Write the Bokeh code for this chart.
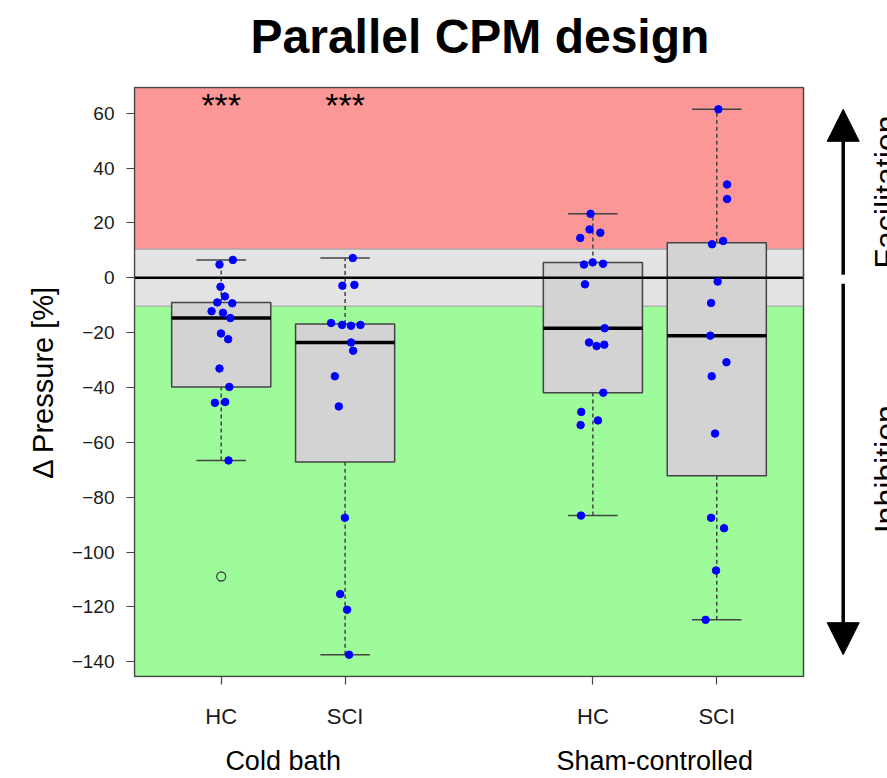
import math
from bokeh.plotting import figure
from bokeh.models import Range1d, FixedTicker, LinearAxis, Arrow, NormalHead, Title
from bokeh.core.properties import value
from bokeh.embed import file_html
from bokeh.resources import INLINE

# ---------------- data ----------------
TITLE = "Parallel CPM design"
Y_LABEL = "Δ Pressure [%]"
CATEGORY_LABELS = ["HC", "SCI", "HC", "SCI"]
CATEGORY_POS = [1, 2, 4, 5]
GROUP_LABELS = ["Cold bath", "Sham-controlled"]
GROUP_POS = [1.5, 4.5]
Y_TICKS = [-140, -120, -100, -80, -60, -40, -20, 0, 20, 40, 60]
Y_TICK_LABELS = ["−140", "−120", "−100", "−80", "−60", "−40", "−20", "0", "20", "40", "60"]
SIGNIF = ["***", "***", "", ""]
SIDE_LABELS = ["Facilitation", "Inhibition"]
BAND_LIMIT = 10.4  # grey "no change" band (± %)

cold_hc = [6.5, 4.8, -3.3, -6.8, -9.0, -9.3, -12.2, -12.8, -14.7, -20.3, -22.4,
           -33.1, -39.8, -45.6, -45.3, -66.6, -108.9]
cold_hc_jitter = [0.094, -0.014, -0.006, 0.03, -0.032, 0.089, -0.078, 0.014, 0.073,
                  -0.002, 0.056, -0.014, 0.065, -0.051, 0.032, 0.059, 0.0]
cold_sci = [7.2, -2.9, -2.6, -16.5, -17.2, -17.5, -17.2, -23.6, -26.6, -35.9, -46.9,
            -87.5, -115.3, -121.0, -137.4]
cold_sci_jitter = [0.062, -0.022, 0.075, -0.113, -0.024, 0.048, 0.124, 0.048, 0.065,
                   -0.083, -0.051, -0.002, -0.04, 0.016, 0.032]
sham_hc = [23.3, 17.6, 16.4, 14.5, 5.6, 5.1, 4.8, -2.4, -18.4, -23.6, -24.4, -24.9,
           -41.9, -48.9, -52.0, -53.7, -86.7]
sham_hc_jitter = [-0.019, -0.027, 0.06, -0.102, -0.002, 0.082, -0.072, -0.064, 0.095,
                  -0.031, 0.092, 0.03, 0.084, -0.094, 0.041, -0.099, -0.096]
sham_sci = [61.4, 34.0, 28.7, 13.4, 12.2, -1.4, -9.2, -21.1, -30.8, -35.9, -56.8,
            -87.5, -91.3, -106.7, -124.7]
sham_sci_jitter = [0.013, 0.083, 0.083, 0.051, -0.038, 0.007, -0.046, -0.052, 0.078,
                   -0.041, -0.014, -0.046, 0.059, -0.006, -0.09]

GROUP_VALUES = [cold_hc, cold_sci, sham_hc, sham_sci]
GROUP_JITTER = [cold_hc_jitter, cold_sci_jitter, sham_hc_jitter, sham_sci_jitter]

# ---------------- styles / layout ----------------
FONT = "Liberation Sans"
RED = "#FC9797"
GREY = "#E3E3E3"
GREEN = "#9EFB9A"
BOX_FILL = "#D3D3D3"
DARK = "#444444"
W, H = 887, 778
PLOT_L, PLOT_R, PLOT_T, PLOT_B = 134, 803, 87, 684
BOX_W = 0.8
CAP_W = 0.4


def fivenum(v):
    x = sorted(v)
    n = len(x)
    n4 = math.floor((n + 3) / 2) / 2
    d = [1, n4, (n + 1) / 2, n + 1 - n4, n]
    return [0.5 * (x[math.floor(di) - 1] + x[math.ceil(di) - 1]) for di in d]


def box_stats(v):
    _, q1, med, q3, _ = fivenum(v)
    iqr = q3 - q1
    lo_f, hi_f = q1 - 1.5 * iqr, q3 + 1.5 * iqr
    inside = [a for a in v if lo_f <= a <= hi_f]
    out = [a for a in v if a < lo_f or a > hi_f]
    return q1, med, q3, min(inside), max(inside), out, lo_f, hi_f


# axis limits like R: range of data extended by 4 %
all_vals = [a for g in GROUP_VALUES for a in g]
dmin, dmax = min(all_vals), max(all_vals)
y_lo = dmin - 0.04 * (dmax - dmin)
y_hi = dmax + 0.04 * (dmax - dmin)
x_lo = 0.5 - 0.04 * 5
x_hi = 5.5 + 0.04 * 5

ppx = (PLOT_R - PLOT_L) / (x_hi - x_lo)
ppy = (PLOT_B - PLOT_T) / (y_hi - y_lo)

# frame is 1px larger than the plot box on left/top/bottom so its border is not clipped
p = figure(width=W, height=H, output_backend="svg", toolbar_location=None,
           x_range=Range1d(x_lo - 1 / ppx, x_lo + (W - PLOT_L) / ppx),
           y_range=Range1d(y_lo - 1 / ppy, y_hi + 1 / ppy),
           min_border_left=PLOT_L - 1, min_border_right=0, min_border_top=PLOT_T - 1,
           min_border_bottom=H - PLOT_B - 1)
p.outline_line_color = None
p.grid.visible = False
p.background_fill_color = "white"
p.border_fill_color = "white"

# spacer between plot box and title, then the title itself
p.add_layout(Title(text=" ", text_font_size="1px", standoff=14), "above")
p.add_layout(Title(text=TITLE, align="left", offset=117, standoff=13,
                   text_font=FONT, text_font_size="48px", text_font_style="bold",
                   text_color="black"), "above")

# background bands
p.quad(left=[x_lo], right=[x_hi], bottom=[BAND_LIMIT], top=[y_hi],
       fill_color=RED, line_color="#A8A8A8", line_width=1)
p.quad(left=[x_lo], right=[x_hi], bottom=[-BAND_LIMIT], top=[BAND_LIMIT],
       fill_color=GREY, line_color="#A8A8A8", line_width=1)
p.quad(left=[x_lo], right=[x_hi], bottom=[y_lo], top=[-BAND_LIMIT],
       fill_color=GREEN, line_color="#A8A8A8", line_width=1)

# boxplots
stats = [box_stats(v) for v in GROUP_VALUES]
bx = CATEGORY_POS
q1s = [s[0] for s in stats]
meds = [s[1] for s in stats]
q3s = [s[2] for s in stats]
wlo = [s[3] for s in stats]
whi = [s[4] for s in stats]

p.segment(x0=bx, x1=bx, y0=q3s, y1=whi, line_color=DARK, line_width=1.5, line_dash="4 3")
p.segment(x0=bx, x1=bx, y0=wlo, y1=q1s, line_color=DARK, line_width=1.5, line_dash="4 3")
p.segment(x0=[x - CAP_W / 2 for x in bx], x1=[x + CAP_W / 2 for x in bx], y0=whi, y1=whi,
          line_color=DARK, line_width=1.5)
p.segment(x0=[x - CAP_W / 2 for x in bx], x1=[x + CAP_W / 2 for x in bx], y0=wlo, y1=wlo,
          line_color=DARK, line_width=1.5)
p.quad(left=[x - BOX_W / 2 for x in bx], right=[x + BOX_W / 2 for x in bx],
       bottom=q1s, top=q3s, fill_color=BOX_FILL, line_color=DARK, line_width=1.5)
p.segment(x0=[x - BOX_W / 2 for x in bx], x1=[x + BOX_W / 2 for x in bx], y0=meds, y1=meds,
          line_color="black", line_width=3.5)

# outliers
ox, oy = [], []
for x, s in zip(bx, stats):
    for o in s[5]:
        ox.append(x)
        oy.append(o)
p.scatter(ox, oy, marker="circle", size=9, fill_color=None, line_color=DARK, line_width=1.3)

# zero line
p.segment(x0=[x_lo], x1=[x_hi], y0=[0], y1=[0], line_color="black", line_width=2.5)

# jittered points (non-outliers)
px, py = [], []
for x, v, j, s in zip(bx, GROUP_VALUES, GROUP_JITTER, stats):
    for a, jj in zip(v, j):
        if s[6] <= a <= s[7]:
            px.append(x + jj)
            py.append(a)
p.scatter(px, py, marker="circle", size=7.5, fill_color="blue", line_color="blue")

# plot box border
p.quad(left=[x_lo], right=[x_hi], bottom=[y_lo], top=[y_hi], fill_color=None,
       line_color=DARK, line_width=1.5)

# significance stars
star_y = dmax + 1.6
p.text(x=bx, y=[star_y] * 4, text=SIGNIF, text_font=value(FONT), text_font_size="34px",
       text_align="center", text_baseline="alphabetic", text_color="black")

# right-side arrows
arrow_x = x_lo + (842.7 - PLOT_L) / ppx
head = dict(size=32, fill_color="black", line_color="black")
p.add_layout(Arrow(end=NormalHead(**head), x_start=arrow_x, y_start=1.1,
                   x_end=arrow_x, y_end=dmax, line_width=3.5, line_color="black"))
p.add_layout(Arrow(end=NormalHead(**head), x_start=arrow_x, y_start=-2.2,
                   x_end=arrow_x, y_end=dmin, line_width=3.5, line_color="black"))
text_x = x_lo + (867.5 - PLOT_L) / ppx
p.text(x=[text_x, text_x], y=[(dmax + 1.1) / 2, (dmin - 2.2) / 2], text=SIDE_LABELS,
       angle=math.pi / 2, text_font=value(FONT), text_font_size="32px",
       text_align="center", text_baseline="top", text_color="black")

# axes
ya = p.yaxis[0]
ya.ticker = FixedTicker(ticks=Y_TICKS)
ya.major_label_overrides = {t: l for t, l in zip(Y_TICKS, Y_TICK_LABELS)}
ya.axis_line_color = None
ya.major_tick_line_color = DARK
ya.major_tick_line_width = 1.2
ya.major_tick_out = 7
ya.major_tick_in = 1
ya.minor_tick_line_color = None
ya.major_label_standoff = 12
ya.major_label_text_font = FONT
ya.major_label_text_font_size = "19px"
ya.major_label_text_color = "#1a1a1a"
ya.axis_label = Y_LABEL
ya.axis_label_text_font = FONT
ya.axis_label_text_font_size = "29px"
ya.axis_label_text_font_style = "normal"
ya.axis_label_text_color = "black"
ya.axis_label_standoff = 10

xa = p.xaxis[0]
xa.ticker = FixedTicker(ticks=CATEGORY_POS)
xa.major_label_overrides = {t: l for t, l in zip(CATEGORY_POS, CATEGORY_LABELS)}
xa.axis_line_color = None
xa.major_tick_line_color = DARK
xa.major_tick_line_width = 1.2
xa.major_tick_out = 7
xa.major_tick_in = 1
xa.minor_tick_line_color = None
xa.major_label_standoff = 19
xa.major_label_text_font = FONT
xa.major_label_text_font_size = "22px"
xa.major_label_text_color = "#1a1a1a"

xa2 = LinearAxis(ticker=FixedTicker(ticks=GROUP_POS),
                 major_label_overrides={t: l for t, l in zip(GROUP_POS, GROUP_LABELS)})
xa2.axis_line_color = None
xa2.major_tick_line_color = None
xa2.minor_tick_line_color = None
xa2.major_label_standoff = 8
xa2.major_label_text_font = FONT
xa2.major_label_text_font_size = "27px"
xa2.major_label_text_color = "black"
p.add_layout(xa2, "below")

open("out.html", "w").write(file_html(p, INLINE))
